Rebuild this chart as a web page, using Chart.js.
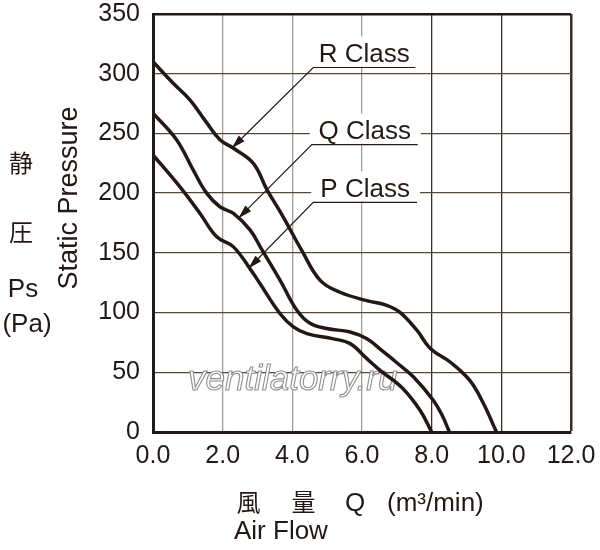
<!DOCTYPE html>
<html>
<head>
<meta charset="utf-8">
<script src="https://cdn.jsdelivr.net/npm/chart.js@4/dist/chart.umd.min.js"></script>
<style>
  body { margin: 0; background: #fff; }
</style>
</head>
<body>
<canvas id="curvas" width="600" height="550"></canvas>
<script>
// Datos (caudal m3/min, presion Pa)
const flujoR = [0, 0.58, 1.06, 1.54, 1.93, 2.31, 2.88, 3.27, 3.74, 4.27, 4.8, 5.37, 6.14, 6.71, 7.1, 7.58, 7.96, 8.53, 9.1, 9.49, 9.86];
const presionR = [310, 292, 278, 259, 244.5, 237.6, 225, 203, 180, 152, 127, 117, 110, 106, 100, 85, 70, 58.6, 43, 23.6, 0];

const flujoQ = [0, 0.68, 1.16, 1.54, 1.92, 2.31, 2.79, 3.1, 3.65, 4.13, 4.51, 4.99, 5.66, 6.14, 6.62, 7.0, 7.48, 8.05, 8.3, 8.51];
const presionQ = [267, 244.5, 219, 200, 188.6, 183, 169, 154, 127, 102, 91, 86.6, 83.7, 78, 67, 58, 46, 26.4, 14, 0];

const flujoP = [0, 0.78, 1.35, 1.83, 2.31, 2.88, 3.07, 3.65, 4.03, 4.42, 5.18, 5.66, 6.14, 6.52, 7.15, 7.67, 8.0];
const presionP = [232, 205, 183, 163.4, 155, 132.7, 124.3, 99, 88, 82.4, 78, 74, 61.4, 51.6, 37, 18, 0];

const clases = ["R Class", "Q Class", "P Class"];
const ticksX = [0, 2, 4, 6, 8, 10, 12];
const ticksY = [0, 50, 100, 150, 200, 250, 300, 350];

const tinta = "#231815";
const letra = "'Liberation Sans', Arial, Helvetica, sans-serif";
const letraCJK = "'Noto Sans CJK JP', 'Noto Sans CJK SC', sans-serif";

// Junta x e y en puntos
function puntos(xs, ys) {
    return xs.map((x, i) => ({ x: x, y: ys[i] }));
}

// Etiquetas con flecha (en coordenadas de datos)
const flechas = [
    { texto: clases[0], y: 305.2, x1: 4.6, x2: 7.53, px: 2.26, py: 237.6 },
    { texto: clases[1], y: 240.6, x1: 4.56, x2: 7.6, px: 2.45, py: 178.9 },
    { texto: clases[2], y: 192.3, x1: 4.6, x2: 7.58, px: 2.74, py: 136.9 }
];

const marcaAgua = {
    id: "marcaAgua",
    beforeDatasetsDraw(chart) {
        const ctx = chart.ctx;
        ctx.save();
        ctx.font = "italic 35px " + letra;
        ctx.textBaseline = "alphabetic";
        ctx.textAlign = "left";
        ctx.fillStyle = "#ffffff";
        ctx.strokeStyle = "#8f8f8f";
        ctx.lineWidth = 1.1;
        ctx.fillText("ventilatorry.ru", 188, 390);
        ctx.strokeText("ventilatorry.ru", 188, 390);
        ctx.restore();
    }
};

const etiquetas = {
    id: "etiquetas",
    afterDatasetsDraw(chart) {
        const ctx = chart.ctx;
        const sx = chart.scales.x;
        const sy = chart.scales.y;
        ctx.save();
        flechas.forEach((f) => {
            const ly = sy.getPixelForValue(f.y);
            const a = sx.getPixelForValue(f.x1);
            const b = sx.getPixelForValue(f.x2);
            const tx = sx.getPixelForValue(f.px);
            const ty = sy.getPixelForValue(f.py);
            // fondo blanco
            ctx.fillStyle = "#ffffff";
            ctx.fillRect(a - 2, ly - 31, b - a + 5, 30);
            // texto
            ctx.fillStyle = tinta;
            ctx.font = "26px " + letra;
            ctx.textAlign = "center";
            ctx.textBaseline = "alphabetic";
            ctx.fillText(f.texto, (a + b) / 2, ly - 5.5);
            // linea
            ctx.strokeStyle = tinta;
            ctx.lineWidth = 1.2;
            ctx.beginPath();
            ctx.moveTo(b, ly);
            ctx.lineTo(a, ly);
            ctx.lineTo(tx, ty);
            ctx.stroke();
            // punta
            const ang = Math.atan2(ty - ly, tx - a);
            const largo = 14, ancho = 4;
            ctx.beginPath();
            ctx.moveTo(tx, ty);
            ctx.lineTo(tx - largo * Math.cos(ang) + ancho * Math.sin(ang), ty - largo * Math.sin(ang) - ancho * Math.cos(ang));
            ctx.lineTo(tx - largo * Math.cos(ang) - ancho * Math.sin(ang), ty - largo * Math.sin(ang) + ancho * Math.cos(ang));
            ctx.closePath();
            ctx.fill();
        });
        ctx.restore();
    }
};

const titulos = {
    id: "titulos",
    afterDraw(chart) {
        const ctx = chart.ctx;
        ctx.save();
        ctx.fillStyle = tinta;
        ctx.textBaseline = "middle";
        ctx.textAlign = "center";
        // eje y
        ctx.font = "24px " + letraCJK;
        ctx.fillText("静", 21, 163);
        ctx.fillText("圧", 21, 232);
        ctx.font = "26px " + letra;
        ctx.textBaseline = "alphabetic";
        ctx.fillText("Ps", 23, 297);
        ctx.fillText("(Pa)", 27, 332);
        ctx.save();
        ctx.translate(77, 198);
        ctx.rotate(-Math.PI / 2);
        ctx.font = "27px " + letra;
        ctx.fillText("Static Pressure", 0, 0);
        ctx.restore();
        // eje x
        ctx.font = "24px " + letraCJK;
        ctx.textBaseline = "middle";
        ctx.fillText("風", 248.5, 502);
        ctx.fillText("量", 303.5, 502);
        ctx.font = "26px " + letra;
        ctx.textBaseline = "alphabetic";
        ctx.fillText("Q", 355, 511);
        ctx.textAlign = "left";
        ctx.fillText("(m³/min)", 387, 511);
        ctx.fillText("Air Flow", 234, 539);
        ctx.restore();
    }
};

new Chart(document.getElementById("curvas").getContext("2d"), {
    type: "line",
    data: {
        datasets: [
            { label: clases[0], data: puntos(flujoR, presionR) },
            { label: clases[1], data: puntos(flujoQ, presionQ) },
            { label: clases[2], data: puntos(flujoP, presionP) }
        ]
    },
    options: {
        responsive: false,
        animation: false,
        devicePixelRatio: 1,
        elements: {
            line: { borderColor: tinta, borderWidth: 3.5, tension: 0.4, fill: false },
            point: { radius: 0 }
        },
        layout: { padding: { top: 14, right: 29, left: 0, bottom: 0 } },
        plugins: {
            legend: { display: false },
            tooltip: { enabled: false }
        },
        scales: {
            x: {
                type: "linear",
                min: 0,
                max: 12,
                afterFit: (s) => { s.height = 118; s.paddingLeft = 0; s.paddingRight = 0; },
                afterBuildTicks: (s) => { s.ticks = ticksX.map((v) => ({ value: v })); },
                ticks: {
                    padding: 9,
                    color: tinta,
                    font: { size: 25, family: letra },
                    maxRotation: 0,
                    callback: (v) => v.toFixed(1)
                },
                grid: {
                    drawTicks: false,
                    color: (c) => (c.tick && c.tick.value >= 2 && c.tick.value <= 6) ? "#a59d94" : "#3b2f26",
                    lineWidth: (c) => (c.tick && c.tick.value === 12) ? 2.5 : 1.3
                },
                border: { color: tinta, width: 3 }
            },
            y: {
                min: 0,
                max: 350,
                afterFit: (s) => { s.width = 153; s.paddingTop = 0; s.paddingBottom = 0; },
                afterBuildTicks: (s) => { s.ticks = ticksY.map((v) => ({ value: v })); },
                ticks: {
                    padding: 13,
                    color: tinta,
                    font: { size: 25, family: letra }
                },
                grid: {
                    drawTicks: false,
                    color: (c) => (c.tick && c.tick.value === 350) ? tinta : "#54473c",
                    lineWidth: (c) => (c.tick && c.tick.value === 350) ? 2.5 : 1.3
                },
                border: { color: tinta, width: 3 }
            }
        }
    },
    plugins: [marcaAgua, etiquetas, titulos]
});
</script>
</body>
</html>
